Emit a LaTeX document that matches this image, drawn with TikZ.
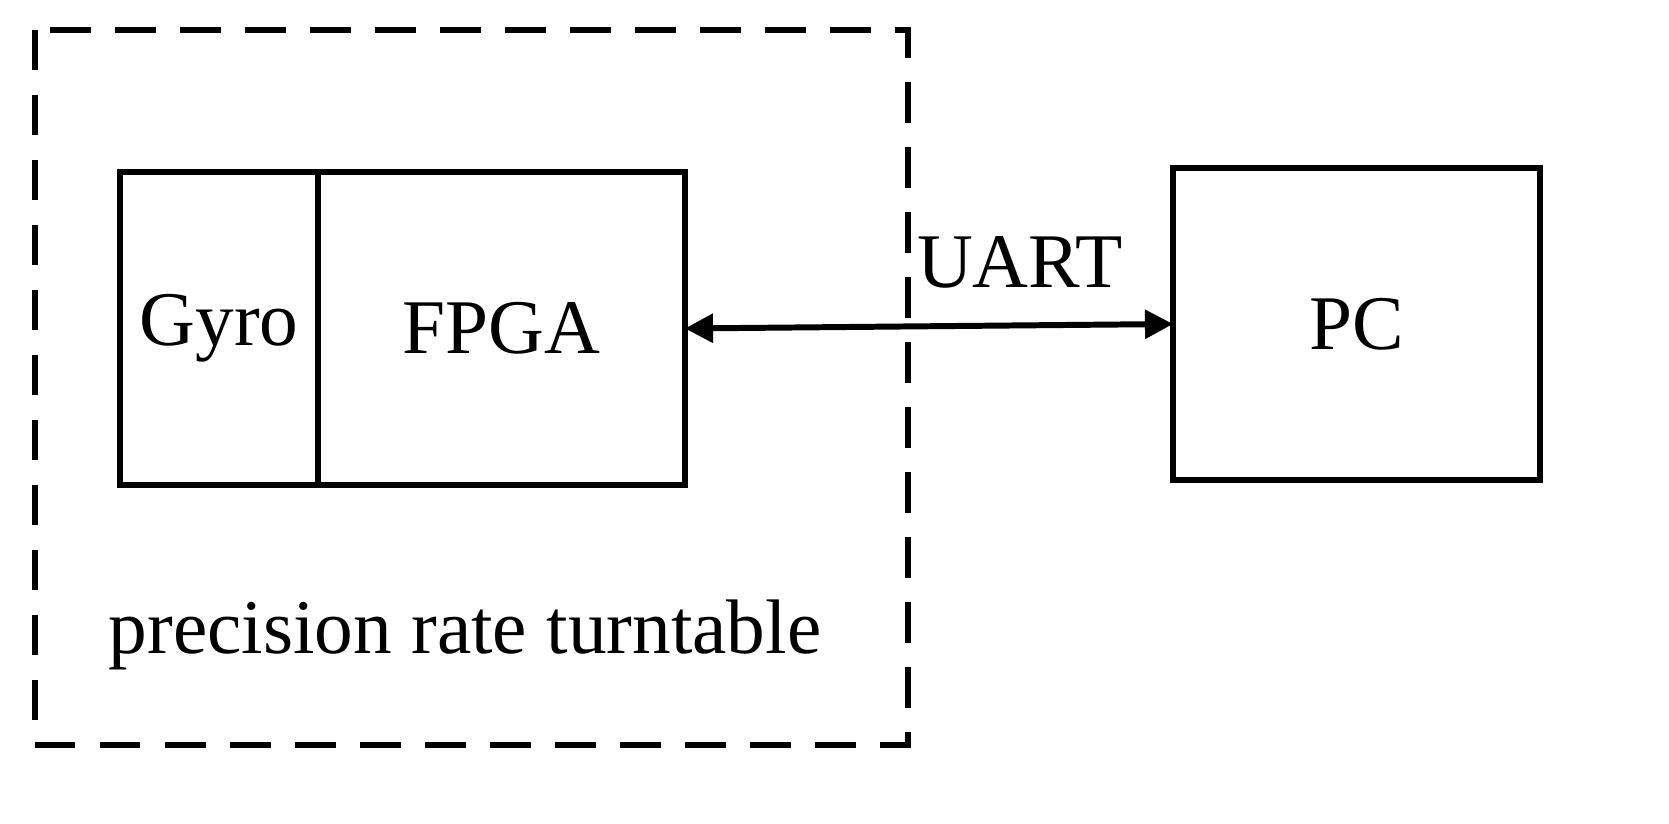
\documentclass[tikz,border=0pt]{standalone}
\usepackage{fontspec}
\setmainfont{Liberation Serif}
\usetikzlibrary{arrows.meta,positioning}
\tikzset{
  blk/.style={draw, line width=3.4pt, inner sep=0pt, outer sep=0pt, font=\fontsize{44}{48}\selectfont},
  lbl/.style={inner sep=0pt, font=\fontsize{44}{48}\selectfont}}
\begin{document}
\begin{tikzpicture}[x=0.02cm,y=-0.02cm]
\useasboundingbox (0,0) rectangle (1669,824);
% turntable frame
\draw[line width=3.4pt, dash pattern=on 23pt off 14pt] (35,30) rectangle (908,745);
\node[blk, minimum width=3.96cm, minimum height=6.26cm] (gyro) at (219,328.5) {Gyro};
\node[blk, minimum width=7.34cm, minimum height=6.26cm, right=0pt of gyro] (fpga) {FPGA};
\node[blk, minimum width=7.34cm, minimum height=6.24cm] (pc) at (1356.5,324) {PC};
\node[lbl] (uart) at (1020,262) {UART};
\node[lbl] (tt) at (465,635) {precision rate turntable};
\draw[line width=3.4pt, {Triangle[length=16pt,width=16pt]}-{Triangle[length=16pt,width=16pt]}] (fpga.east) -- (pc.west);
\end{tikzpicture}
\end{document}
